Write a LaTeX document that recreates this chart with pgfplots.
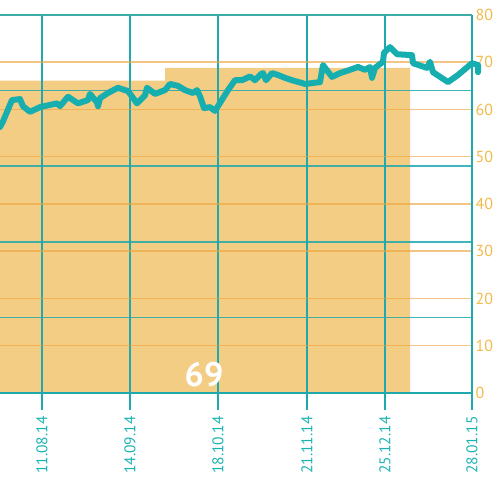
\documentclass[border=0pt]{standalone}
\usepackage{fontspec}
\setmainfont{PT Sans}
\usepackage{pgfplots}
\pgfplotsset{compat=1.18}
\definecolor{linet}{HTML}{17AEB0}
\definecolor{gridt}{HTML}{1FA9AE}
\definecolor{barc}{HTML}{F4CD84}
\definecolor{grido}{HTML}{EBA443}
\definecolor{labo}{HTML}{F2BA4A}
\definecolor{labt}{HTML}{1EB3B3}

\begin{document}
\begin{tikzpicture}
\begin{axis}[
  set layers=standard,
  scale only axis,
  width=472pt, height=378pt,
  xmin=0, xmax=472,
  ymin=0, ymax=80,
  clip=false,
  axis x line*=bottom,
  axis y line*=right,
  axis line style={gridt, line width=1.5pt},
  xtick={42,130,218,307,385,472},
  xticklabels={11.08.14,14.09.14,18.10.14,21.11.14,25.12.14,28.01.15},
  ytick={0,10,20,30,40,50,60,70,80},
  xtick align=outside,
  ytick align=inside,
  major tick length=17pt,
  xtick style={gridt, line width=1.5pt},
  ytick style={draw=none},
  xmajorgrids, ymajorgrids,
  x grid style={gridt, line width=1.5pt},
  y grid style={grido, opacity=0.65, line width=1.5pt},
  extra y ticks={0,16,32,48,64,80},
  extra y tick labels={},
  extra y tick style={grid=major, y grid style={gridt, opacity=0.85, line width=1.5pt}},
  /pgf/number format/assume math mode=true,
  xticklabel style={rotate=90, anchor=east, font=\fontsize{15.5}{18}\selectfont, text=labt},
  xticklabel shift=3pt,
  yticklabel style={font=\fontsize{16}{19}\selectfont, text=labo},
]
\addplot[const plot, fill=barc, draw=none, on layer=axis background]
  coordinates {(0,66.1) (165,68.8) (410,68.8)} \closedcycle;

\addplot[linet, line width=6pt, line join=round, line cap=round] coordinates {
(0,56.3) (3,57.5) (12,62.0) (20,62.2) (23,60.7) (30,59.5) (40,60.5) (57,61.3)
(60,60.7) (68,62.7) (78,61.3) (88,62.0) (90,63.3) (97,61.5) (98,60.7) (100,62.4)
(108,63.5) (118,64.6) (122,64.3) (128,63.9) (137,61.3) (145,63.0) (147,64.6)
(155,63.3) (165,64.1) (170,65.4) (178,65.0) (185,64.1) (193,63.5) (197,64.1)
(200,62.8) (204,60.3) (210,60.5) (215,59.7) (228,64.1) (235,66.2) (242,66.2)
(250,67.0) (255,66.2) (261,67.5) (263,67.7) (266,66.2) (272,67.7) (278,67.3)
(285,66.7) (292,66.2) (302,65.6) (305,65.4) (320,65.8) (323,69.4) (332,66.9)
(340,67.7) (350,68.4) (358,69.0) (365,68.4) (370,69.0) (372,66.7) (375,68.8)
(383,70.1) (384,72.0) (390,73.2) (397,71.7) (412,71.5) (413,69.8) (427,68.8)
(430,70.1) (433,67.9) (448,65.8) (458,67.3) (472,69.8) (478,69.4) (478,67.9)
};

\node[anchor=base, text=white, font=\fontsize{34}{40}\selectfont\bfseries] at (axis cs:204,1.3) {69};

\coordinate (bl) at (rel axis cs:0,0);
\coordinate (tr) at (rel axis cs:1,1);
\end{axis}
\pgfresetboundingbox
\path[use as bounding box] ([yshift=-106pt]bl) rectangle ([xshift=28pt,yshift=15pt]tr);
\end{tikzpicture}
\end{document}
